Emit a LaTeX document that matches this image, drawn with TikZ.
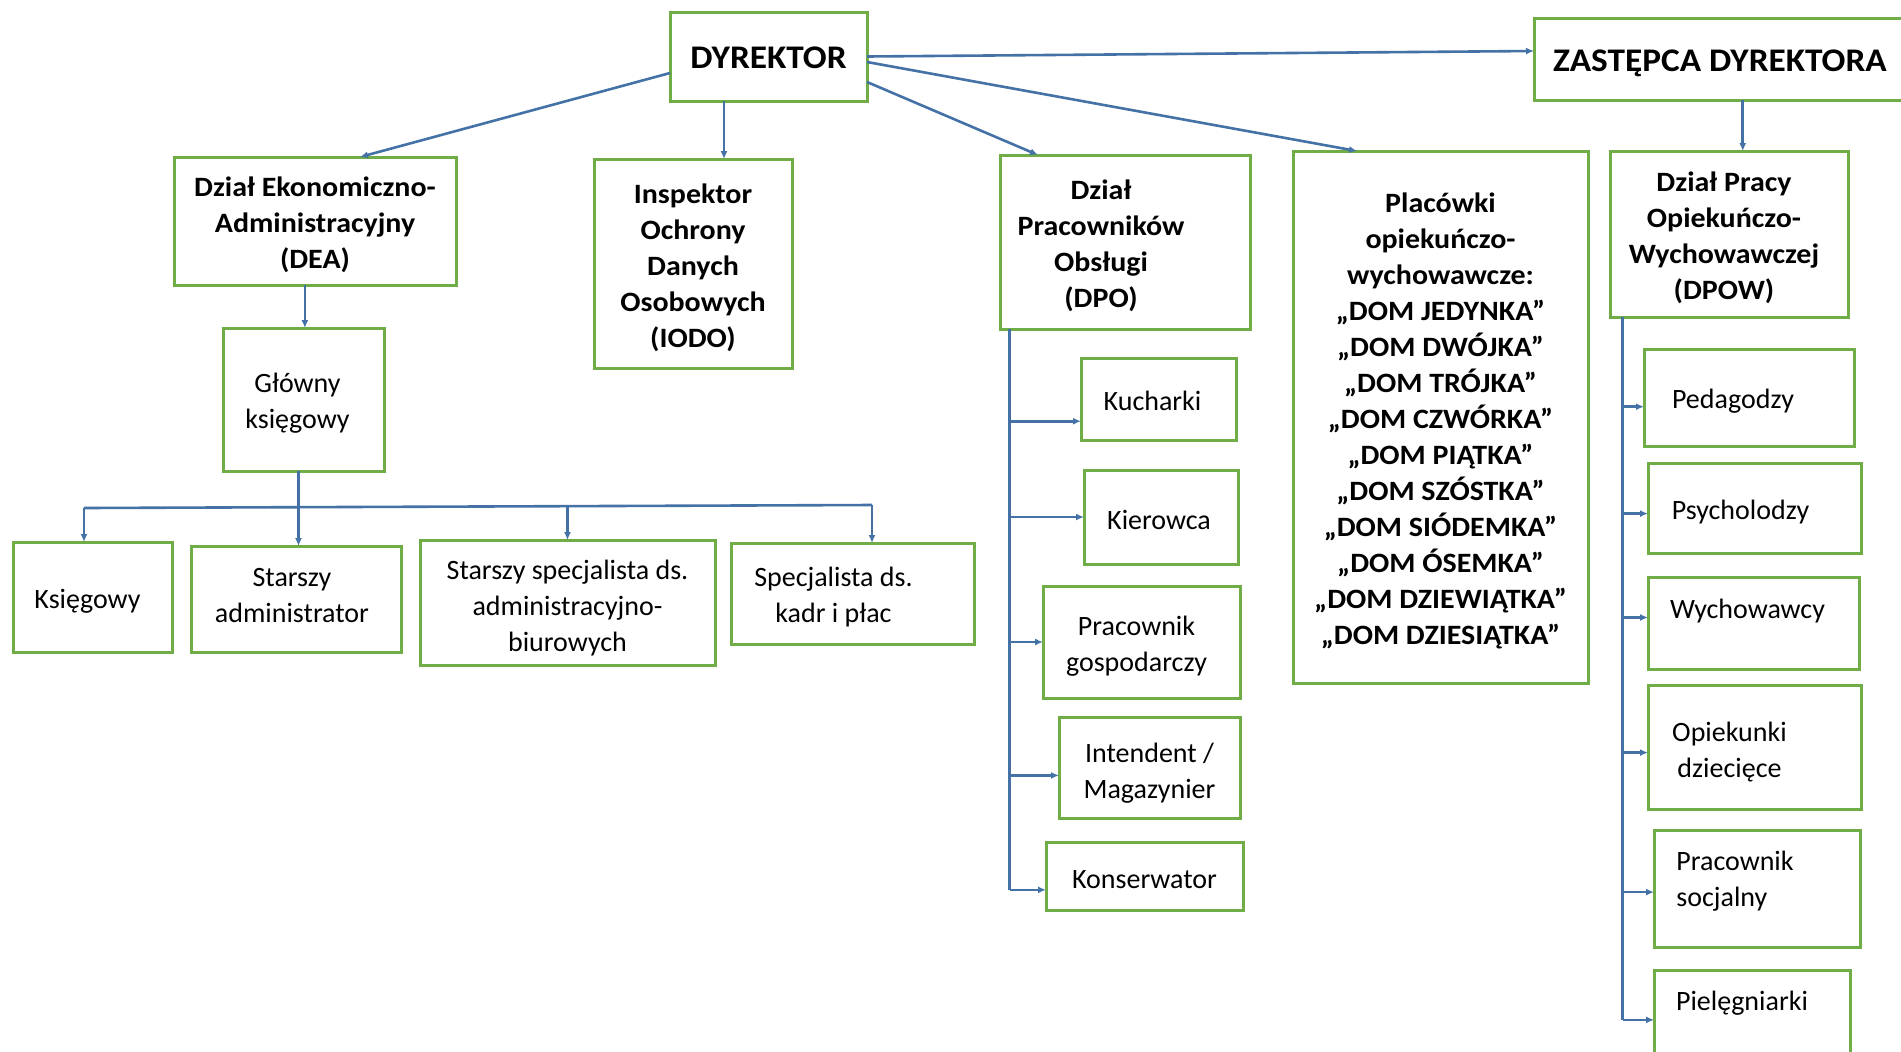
\documentclass[tikz,border=0pt]{standalone}
\usepackage{fontspec}
\setmainfont{Carlito}[BoldFeatures={FakeStretch=1.07}]
\usetikzlibrary{arrows.meta}
\definecolor{boxgreen}{RGB}{112,173,71}
\definecolor{linkblue}{RGB}{68,114,166}
\tikzset{
  box/.style={draw=boxgreen, line width=1.5pt, inner sep=0pt, outer sep=0pt},
  wh/.style 2 args={minimum width=#1*0.5pt, minimum height=#2*0.5pt},
  txt/.style={align=center, inner sep=0pt, yshift=-2pt, font=\fontsize{14}{18}\selectfont},
  headtxt/.style={txt, font=\fontsize{14}{18}\selectfont\bfseries},
  bosstxt/.style={txt, font=\fontsize{16.5}{20}\selectfont\bfseries},
  conn/.style={draw=linkblue, line width=1.3pt},
}
\begin{document}
\begin{tikzpicture}[x=0.5pt, y=-0.5pt, >={Latex[length=4pt,width=3.5pt]}]
  \useasboundingbox (0,0) rectangle (1901,1051);

  % Management
  \node[box, wh={197}{89}, label={[bosstxt, yshift=1.4pt]center:DYREKTOR}] (dyr) at (768.5,56.5) {};
  \node[box, wh={372}{82}, label={[bosstxt]center:ZASTĘPCA DYREKTORA}] (zast) at (1720,59) {};

  % Departments
  \node[box, wh={282}{128}, label={[headtxt]center:{Dział Ekonomiczno-\\Administracyjny\\(DEA)}}] (dea) at (315,221) {};
  \node[box, wh={198}{209}, label={[headtxt]center:{Inspektor\\Ochrony\\Danych\\Osobowych\\(IODO)}}] (iodo) at (693,263.5) {};
  \node[box, wh={250}{174}, label={[headtxt, xshift=-12pt]center:{Dział\\Pracowników\\Obsługi\\(DPO)}}] (dpo) at (1125,242) {};
  \node[box, wh={295}{532}, label={[headtxt]center:{Placówki\\opiekuńczo-\\wychowawcze:\\„DOM JEDYNKA”\\„DOM DWÓJKA”\\„DOM TRÓJKA”\\„DOM CZWÓRKA”\\„DOM PIĄTKA”\\„DOM SZÓSTKA”\\„DOM SIÓDEMKA”\\„DOM ÓSEMKA”\\„DOM DZIEWIĄTKA”\\„DOM DZIESIĄTKA”}}] (plac) at (1440.5,417) {};
  \node[box, wh={238}{166}, label={[headtxt, xshift=-2.5pt]center:{Dział Pracy\\Opiekuńczo-\\Wychowawczej\\(DPOW)}}] (dpow) at (1729,234) {};

  % DEA staff
  \node[box, wh={161}{143}, label={[txt, xshift=-3pt]center:{Główny\\księgowy}}] (glow) at (303.5,399.5) {};
  \node[box, wh={159}{110}, label={[txt, xshift=-2.5pt]center:Księgowy}] (ksieg) at (92.5,597) {};
  \node[box, wh={210}{106}, label={[txt, xshift=-2pt, yshift=3.8pt]center:{Starszy\\administrator}}] (stadm) at (296,599) {};
  \node[box, wh={295}{125}, label={[txt, yshift=-1pt]center:{Starszy specjalista ds.\\administracyjno-\\biurowych}}] (stspec) at (567.5,602.5) {};
  \node[box, wh={243}{101}, label={[txt, xshift=-9.5pt]center:{Specjalista ds.\\kadr i płac}}] (kadry) at (852.5,593.5) {};

  % DPO staff
  \node[box, wh={155}{82}, label={[txt, xshift=-3pt, yshift=1.1pt]center:Kucharki}] (kuch) at (1158.5,399) {};
  \node[box, wh={154}{94}, label={[txt, xshift=-1pt, yshift=0.5pt]center:Kierowca}] (kier) at (1161,517) {};
  \node[box, wh={197}{112}, label={[txt, xshift=-2.5pt]center:{Pracownik\\gospodarczy}}] (gosp) at (1141.5,642) {};
  \node[box, wh={181}{101}, label={[txt, yshift=-0.7pt]center:{Intendent /\\Magazynier}}] (inte) at (1149.5,767.5) {};
  \node[box, wh={197}{68}, label={[txt]center:Konserwator}] (kons) at (1144.5,876) {};

  % DPOW staff
  \node[box, wh={210}{97}, label={[txt, xshift=-8pt]center:Pedagodzy}] (ped) at (1749,397.5) {};
  \node[box, wh={213}{90}, label={[txt, xshift=-7pt]center:Psycholodzy}] (psy) at (1754.5,508) {};
  \node[box, wh={211}{92}, label={[txt, xshift=-3pt, yshift=8.2pt]center:Wychowawcy}] (wych) at (1753.5,623) {};
  \node[box, wh={213}{124}, label={[txt, xshift=-12.5pt, yshift=-0.5pt]center:{Opiekunki\\dziecięce}}] (opie) at (1754.5,747) {};
  \node[box, wh={206}{117}, label={[txt, align=left, xshift=-11pt, yshift=5.5pt]center:{Pracownik\\socjalny}}] (socj) at (1757,888.5) {};
  \node[box, wh={196}{110}, label={[txt, xshift=-5pt, yshift=12.7pt]center:Pielęgniarki}] (piel) at (1752,1025) {};

  % Director links
  \draw[conn,->] ([yshift=-8.25pt]dyr.west) -- ([xshift=22.5pt]dea.north);
  \draw[conn,->] (dyr.225) -- (dyr.225 |- iodo.north);
  \draw[conn,->] (dyr.east) -- ([yshift=4pt]zast.west);
  \draw[conn,->] ([yshift=-2.75pt]dyr.east) -- ([xshift=-41.75pt]plac.north);
  \draw[conn,->] ([yshift=-12.75pt]dyr.east) -- ([xshift=-43.5pt]dpo.north);
  \draw[conn,->] (zast.299) -- (zast.299 |- dpow.north);

  % DEA branch
  \draw[conn,->] (dea.261) -- (dea.261 |- glow.north);
  \draw[conn,->] (glow.266) -- (glow.266 |- stadm.north);
  \coordinate (barL) at (84,508);
  \coordinate (barR) at (872,505);
  \draw[conn] (barL) -- (barR);
  \draw[conn,->] (barL) -- (barL |- ksieg.north);
  \draw[conn,->] (stspec.north |- barR) -- (stspec.north);
  \draw[conn,->] (barR) -- (barR |- kadry.north);

  % DPO branch
  \draw[conn] (dpo.217) -- (dpo.217 |- kons.188);
  \foreach \n/\a in {kuch/196, kier/180, gosp/180, inte/185, kons/188}
    \draw[conn,->] (dpo.217 |- \n.\a) -- (\n.\a);

  % DPOW branch
  \draw[conn] (dpow.218) -- (dpow.218 |- piel.177);
  \foreach \n/\a in {ped/185, psy/183, wych/177, opie/183, socj/182, piel/177}
    \draw[conn,->] (dpow.218 |- \n.\a) -- (\n.\a);
\end{tikzpicture}
\end{document}
